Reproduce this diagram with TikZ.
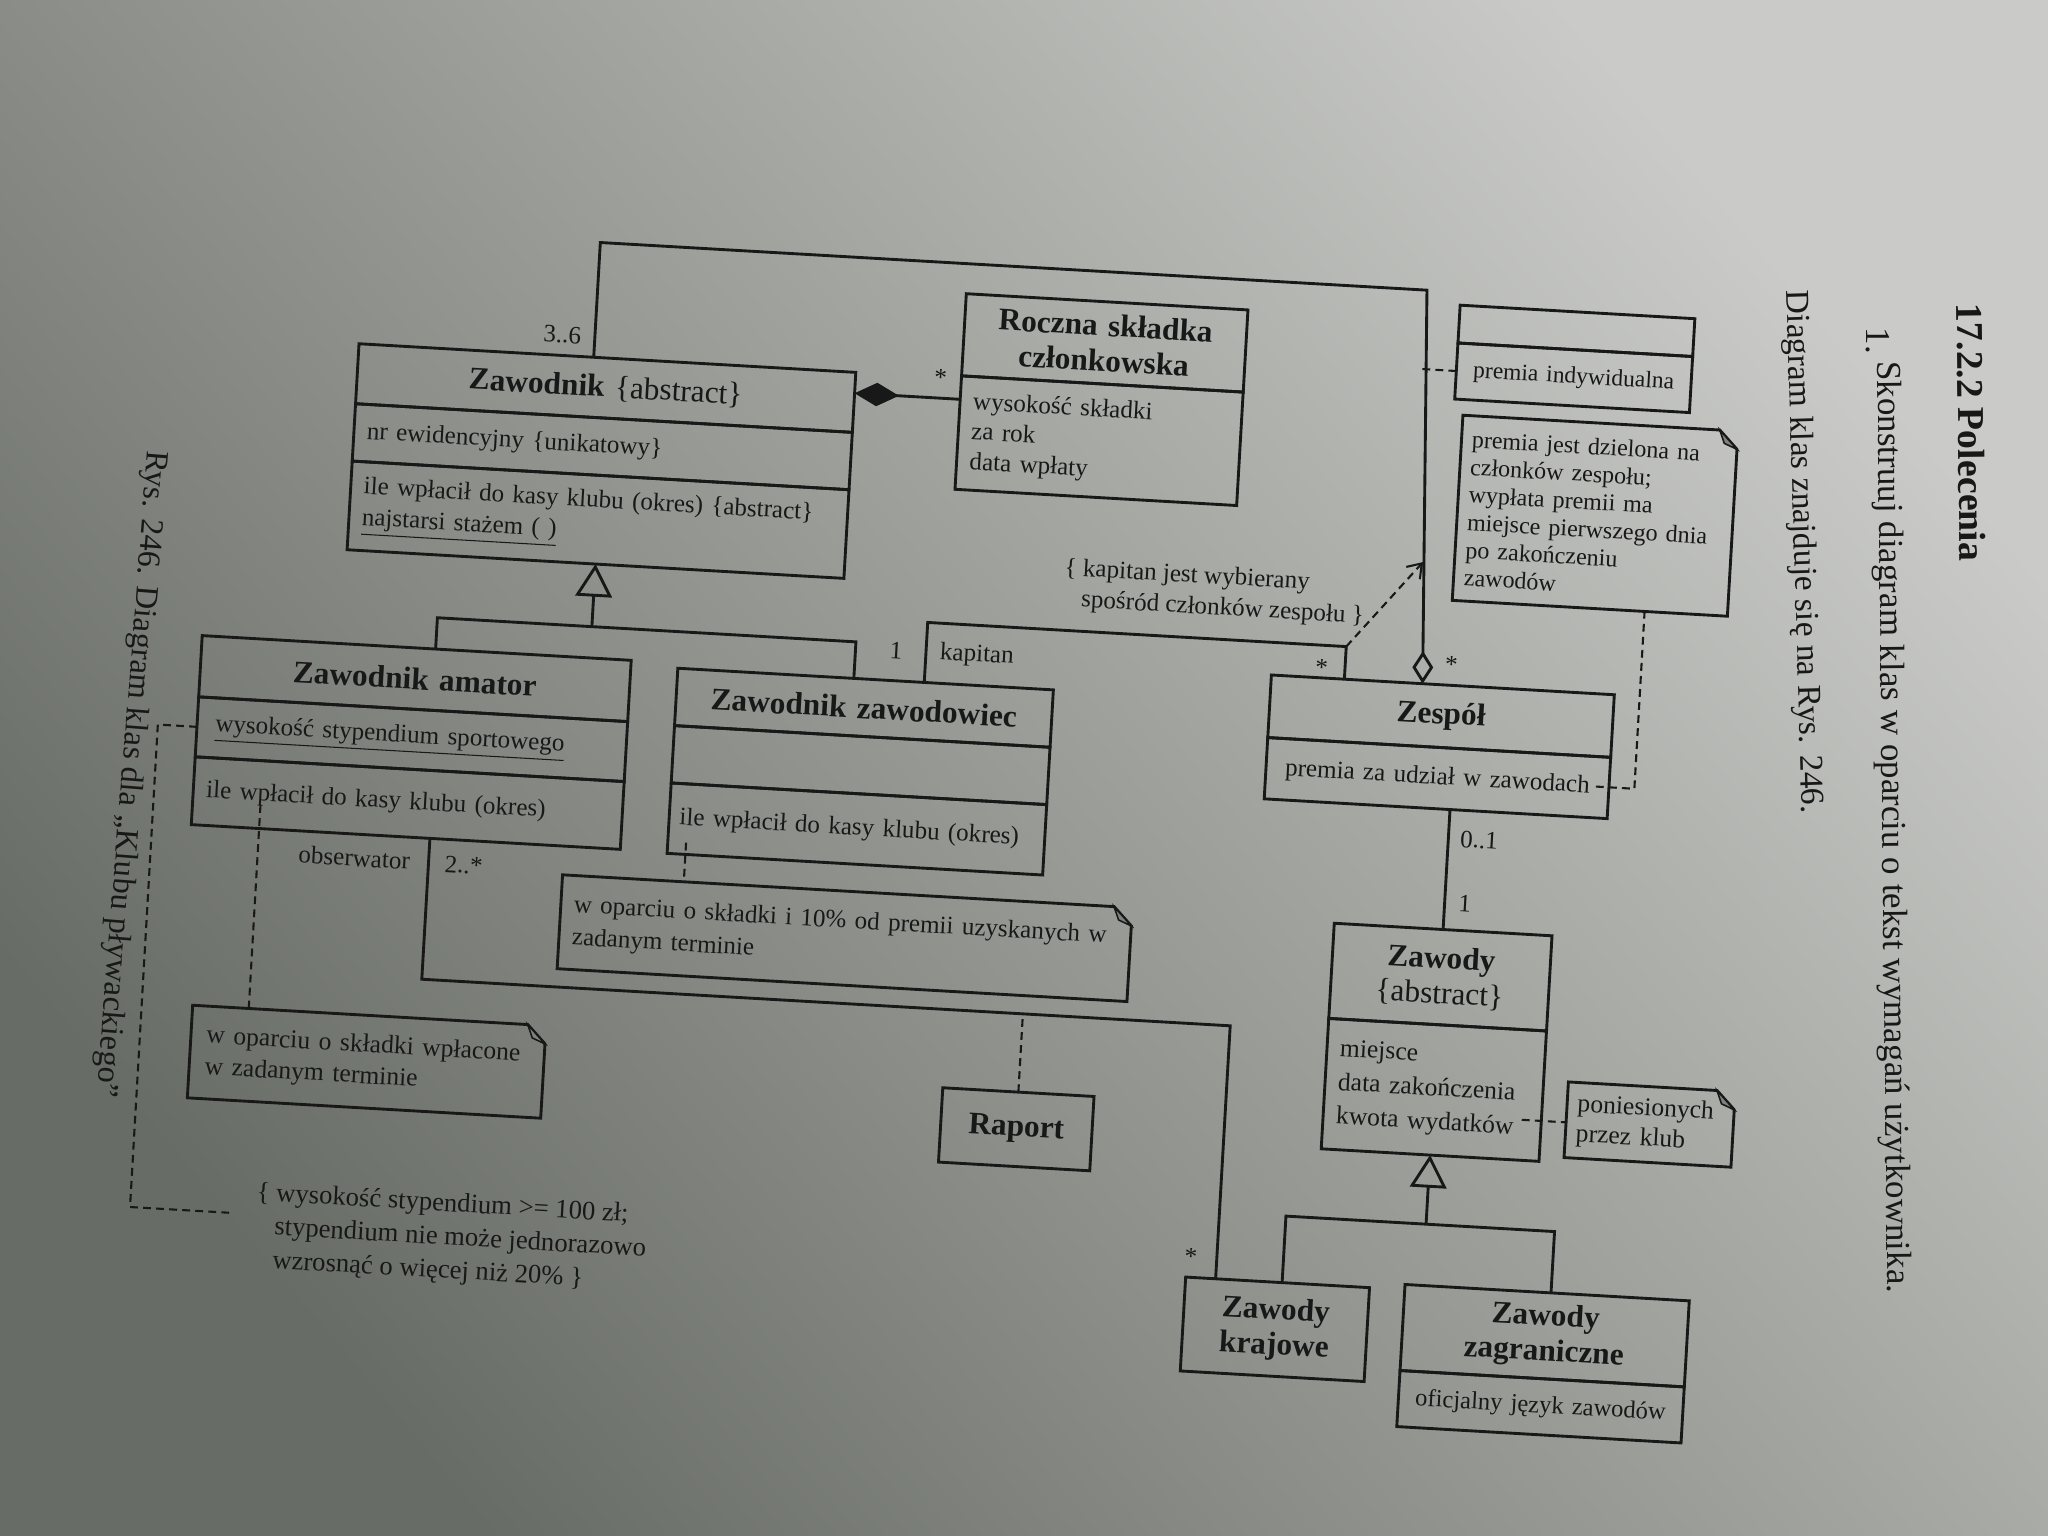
\documentclass[tikz,border=0pt]{standalone}
\usepackage{fontspec}
\setmainfont{Liberation Serif}
\usetikzlibrary{positioning, arrows.meta}

\definecolor{ink}{RGB}{24,24,24}
\definecolor{pagelight}{RGB}{202,203,200}
\definecolor{pagemid}{RGB}{172,174,170}
\definecolor{pagedark}{RGB}{104,108,102}

\newcommand{\umlbody}{\fontsize{9.6}{12}\selectfont}
\newcommand{\umlhead}{\fontsize{12}{13.5}\selectfont\bfseries}
\newcommand{\booktxt}{\fontsize{13}{15}\selectfont}

\newcommand{\notebox}[1]{%
  \draw[umlline] (#1.north west) -- ([xshift=-7pt]#1.north east)
    -- ([yshift=-7pt]#1.north east) -- (#1.south east)
    -- (#1.south west) -- cycle;
  \filldraw[umlline, line width=0.6pt, fill=ink!55]
    ([xshift=-7pt]#1.north east) -- ([xshift=-5pt,yshift=-5pt]#1.north east)
    -- ([yshift=-7pt]#1.north east) -- cycle;}

\begin{document}
\begin{tikzpicture}[x=0.5pt, y=-0.5pt,
  umlline/.style={draw=ink, line width=1.1pt},
  clshead/.style={umlline, outer sep=0pt, inner sep=0pt, align=center, font=\umlhead, text=ink},
  clsslot/.style={umlline, outer sep=0pt, inner xsep=5pt, inner ysep=0pt, align=left, font=\umlbody, text=ink},
  notetext/.style={anchor=north west, outer sep=0pt, inner xsep=5pt, inner ysep=0pt, align=left, font=\umlbody, text=ink},
  lbl/.style={inner sep=0pt, font=\umlbody, text=ink},
  assoc/.style={umlline},
  gen/.style={umlline, -{Triangle[open, length=12.5pt, width=14pt]}},
  notelink/.style={draw=ink, line width=0.8pt, dash pattern=on 3pt off 2pt},
  booknode/.style={inner sep=0pt, font=\booktxt, text=ink}]

\useasboundingbox (0,0) rectangle (1568,1176);
\fill[pagemid] (0,0) rectangle (1568,1176);
\shade[top color=pagelight, middle color=pagemid, bottom color=pagedark, shading angle=-50] (0,0) rectangle (1568,1176);

\node[booknode, font=\fontsize{14.5}{16}\selectfont\bfseries, rotate=-89.3, anchor=west] (hdr) at (1508,232) {17.2.2 Polecenia};
\node[booknode, font=\fontsize{13.4}{15}\selectfont, rotate=-90] (it-n) at (1438,261) {1.};
\node[booknode, font=\fontsize{13.4}{15}\selectfont, rotate=-89.4, anchor=west] (it-t) at (1444,276) {Skonstruuj diagram klas w oparciu o tekst wymagań użytkownika.};
\node[booknode, font=\fontsize{12.8}{15}\selectfont, rotate=-88.3, anchor=west] (it-d) at (1374,222) {Diagram klas znajduje się na Rys. 246.};
\node[booknode, font=\fontsize{12.4}{14}\selectfont, rotate=-94.5, anchor=west] (cap) at (119,345) {Rys. 246. Diagram klas dla „Klubu pływackiego”};

\begin{scope}[rotate around={-3.3:(784,588)}, transform shape]
\node[clshead, anchor=north west, text width=190.5pt, minimum height=23pt] (zaw-t) at (257,293) {Zawodnik \textmd{\{abstract\}}};
\node[clsslot, below=0pt of zaw-t, text width=180.5pt, minimum height=22pt] (zaw-a) {nr ewidencyjny \{unikatowy\}};
\node[clsslot, below=0pt of zaw-a, text width=180.5pt, minimum height=34pt] (zaw-o) {ile wpłacił do kasy klubu (okres) \{abstract\}\\\underline{najstarsi stażem ( )}};

\node[clshead, anchor=north west, text width=108pt, minimum height=31.5pt] (rsk-t) at (719,228) {Roczna składka\\członkowska};
\node[clsslot, below=0pt of rsk-t, text width=98pt, minimum height=43.5pt, font=\fontsize{9.6}{11.5}\selectfont] (rsk-a) {wysokość składki\\za rok\\data wpłaty};

\node[clshead, anchor=north west, text width=90pt, minimum height=14.5pt] (ind-t) at (1097,215) {};
\node[clsslot, below=0pt of ind-t, text width=82pt, inner xsep=4pt, minimum height=21.5pt, align=center, font=\fontsize{9}{11}\selectfont] (ind-a) {premia indywidualna};

\node[notetext, inner xsep=4pt, text width=97.5pt, minimum height=71pt, font=\fontsize{9.2}{10.6}\selectfont] (npremia) at (1104,299) {premia jest dzielona na\\członków zespołu;\\wypłata premii ma\\miejsce pierwszego dnia\\po zakończeniu\\zawodów};

\node[clshead, anchor=north west, text width=131.5pt, minimum height=24pt] (zes-t) at (969,506) {Zespół};
\node[clsslot, below=0pt of zes-t, inner xsep=3pt, text width=125.5pt, minimum height=23.5pt, align=center] (zes-a) {premia za udział w zawodach};

\node[clshead, anchor=north west, text width=83.5pt, minimum height=36.5pt] (zwd-t) at (1028,693) {Zawody\\\textmd{\{abstract\}}};
\node[clsslot, below=0pt of zwd-t, text width=73.5pt, minimum height=50pt, font=\fontsize{9.8}{13}\selectfont] (zwd-a) {miejsce\\data zakończenia\\kwota wydatków};

\node[notetext, inner xsep=4pt, text width=56pt, minimum height=29pt, font=\fontsize{9.8}{11.5}\selectfont] (nkoszt) at (1214,804) {poniesionych\\przez klub};

\node[clshead, anchor=north west, text width=70.5pt, minimum height=36pt] (kraj) at (930,970) {Zawody\\krajowe};
\node[clshead, anchor=north west, text width=109pt, minimum height=33pt] (zagr-t) at (1098,966) {Zawody\\zagraniczne};
\node[clsslot, below=0pt of zagr-t, inner xsep=3pt, text width=103pt, minimum height=21.5pt, align=center, font=\fontsize{9.4}{11}\selectfont] (zagr-a) {oficjalny język zawodów};

\node[clshead, anchor=north west, text width=58pt, minimum height=28.5pt] (raport) at (736,836) {Raport};

\node[clshead, anchor=north west, text width=164.5pt, minimum height=23.5pt] (ama-t) at (150,523) {Zawodnik amator};
\node[clsslot, below=0pt of ama-t, inner xsep=7pt, text width=150.5pt, minimum height=23pt] (ama-a) {\underline{wysokość stypendium sportowego}};
\node[clsslot, below=0pt of ama-a, inner xsep=5pt, text width=154.5pt, minimum height=26pt] (ama-o) {ile wpłacił do kasy klubu (okres)};

\node[clshead, anchor=north west, text width=144pt, minimum height=22pt] (pro-t) at (515,527) {Zawodnik zawodowiec};
\node[clsslot, below=0pt of pro-t, inner xsep=4pt, text width=136pt, minimum height=22pt] (pro-a) {};
\node[clsslot, below=0pt of pro-a, inner xsep=4pt, text width=136pt, minimum height=27pt] (pro-o) {ile wpłacił do kasy klubu (okres)};

\node[notetext, text width=208.5pt, minimum height=36pt, font=\fontsize{9.6}{12.5}\selectfont] (nmid) at (436,690) {w oparciu o składki i 10\% od premii uzyskanych w\\zadanym terminie};
\node[notetext, inner xsep=6pt, text width=123.5pt, minimum height=35.5pt, font=\fontsize{9.8}{12}\selectfont] (nleft) at (159,806) {w oparciu o składki wpłacone\\w zadanym terminie};

\node[lbl, anchor=west, align=left, font=\fontsize{9.6}{11.8}\selectfont] (ckap) at (806,446) {\{ kapitan jest wybierany\\\hphantom{\{ }spośród członków zespołu \}};
\node[lbl, anchor=west, align=left, font=\fontsize{10.2}{12.8}\selectfont] (cstyp) at (216,973) {\{ wysokość stypendium >= 100 zł;\\\hphantom{\{ }stypendium nie może jednorazowo\\\hphantom{\{ }wzrosnąć o więcej niż 20\% \}};

\node[lbl] (l-36) at (412,277) {3..6};
\node[lbl] (l-sr) at (703,293) {*};
\node[lbl] (l-sz) at (1106,490) {*};
\node[lbl] (l-1k) at (681,504) {1};
\node[lbl] (l-kap) at (743,504) {kapitan};
\node[lbl] (l-sk) at (1007,498) {*};
\node[lbl] (l-obs) at (276,686) {obserwator};
\node[lbl] (l-2s) at (360,687) {2..*};
\node[lbl] (l-so) at (933,954) {*};
\node[lbl] (l-01) at (1135,623) {0..1};
\node[lbl] (l-1z) at (1127,672) {1};

\coordinate (a1) at (437,205);
\coordinate (a2) at (1071,205);
\coordinate (a3) at (1085,480);
\draw[assoc, -{Diamond[open, length=12.5pt, width=8pt]}] (zaw-t.north -| a1) -- (a1) -- (a2) -- (a3 |- zes-t.north);
\draw[notelink] (ind-a.west) -- (ind-a.west -| a2);

\coordinate (cp) at (680,309);
\draw[assoc, -{Diamond[length=17pt, width=9pt]}] (cp -| rsk-a.west) -- (cp -| zaw-t.east);

\coordinate (k1) at (704,481);
\coordinate (k2) at (1025,481);
\coordinate (k3) at (1080,413);
\draw[assoc] (pro-t.north -| k1) -- (k1) -- (k2) -- (k2 |- zes-t.north);
\draw[notelink, -{Straight Barb[length=5pt, width=7pt]}] (k2) -- (k3);

\coordinate (gl) at (329,499);
\coordinate (gr) at (650,499);
\draw[assoc] (ama-t.north -| gl) -- (gl) -- (gr) -- (pro-t.north -| gr);
\draw[gen] (gl -| zaw-o.south) -- (zaw-o.south);

\coordinate (o1) at (333,776);
\coordinate (o2) at (953,776);
\draw[assoc] (ama-o.south -| o1) -- (o1) -- (o2) -- (kraj.north -| o2);
\draw[notelink] (raport.north) -- (raport.north |- o1);

\draw[assoc] (zes-a.south -| zwd-t.north) -- (zwd-t.north);

\coordinate (hl) at (1004,919);
\coordinate (hr) at (1210,919);
\draw[assoc] (kraj.north -| hl) -- (hl) -- (hr) -- (zagr-t.north -| hr);
\draw[gen] (hl -| zwd-a.south) -- (zwd-a.south);

\coordinate (pz) at (1222,577);
\draw[notelink] (pz) -| ([xshift=21pt]npremia.south);
\coordinate (kw) at (1180,835);
\draw[notelink] (kw) -- (kw -| nkoszt.west);
\coordinate (ao) at (202,650);
\draw[notelink] (ao) -- (ao |- nleft.north);
\coordinate (po) at (529,660);
\draw[notelink] (po) -- (po |- nmid.north);
\coordinate (cs) at (120,963);
\coordinate (ce) at (200,963);
\draw[notelink] (ama-a.west) -| (cs) -- (ce);

\notebox{npremia}
\notebox{nkoszt}
\notebox{nmid}
\notebox{nleft}
\end{scope}
\end{tikzpicture}
\end{document}
